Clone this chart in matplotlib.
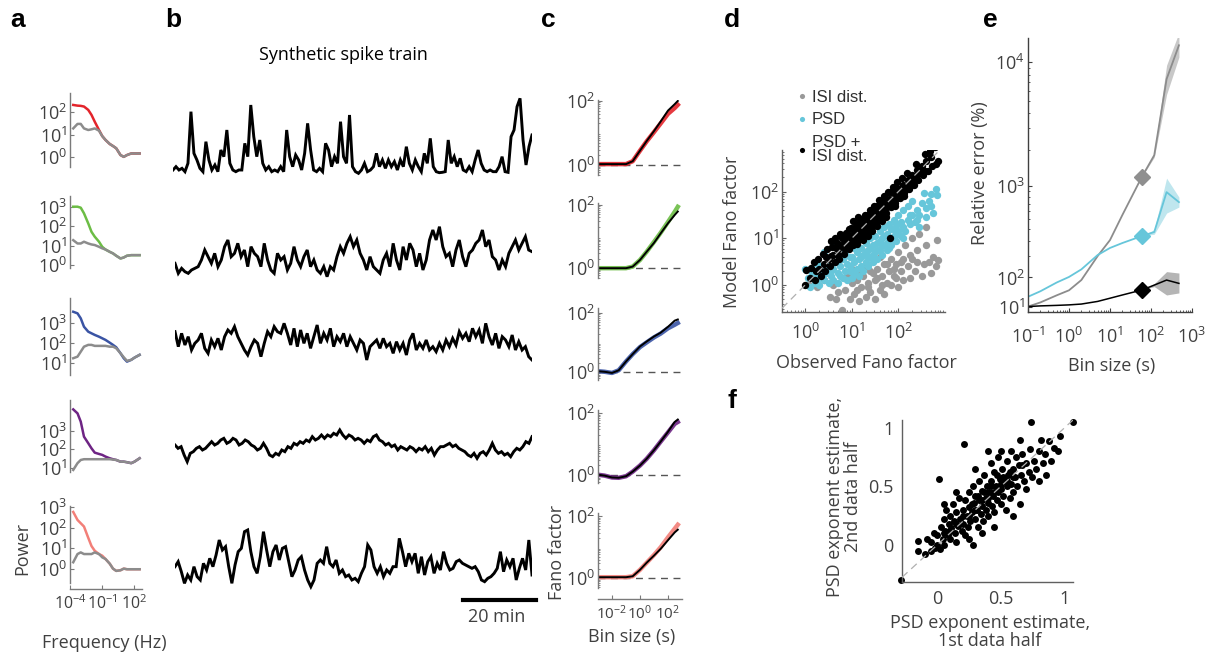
import numpy as np
import matplotlib.pyplot as plt
from matplotlib.lines import Line2D
from matplotlib.ticker import (FixedLocator, FixedFormatter, NullFormatter,
                               NullLocator, LogLocator, LogFormatterSciNotation)

W, H = 1221, 655

plt.rcParams['font.family'] = ['Open Sans', 'DejaVu Sans']
plt.rcParams['mathtext.fontset'] = 'custom'
plt.rcParams['mathtext.rm'] = 'Open Sans'
plt.rcParams['mathtext.it'] = 'Open Sans:italic'
plt.rcParams['mathtext.bf'] = 'Open Sans:bold'

TXT = '#404040'
GRAY = '#8c8c8c'
CYAN = '#66c6da'
COLS = ['#e3242b', '#6cbd45', '#3a54a4', '#6e2484', '#f27f78']

# ---------------- panel a: power spectra (log10 power) ----------------
freq_a = [2e-4, 5e-4, 1e-3, 2e-3, 5e-3, 1e-2, 2e-2, 5e-2, 0.1, 0.2, 0.5,
          1, 2, 5, 10, 20, 50, 100, 300]
psd_red = [2.31, 2.28, 2.27, 2.24, 2.09, 1.87, 1.57, 1.2, 0.93, 0.76, 0.58,
           0.49, 0.39, 0.09, 0.01, 0.09, 0.16, 0.16, 0.16]
psd_red_isi = [1.27, 1.47, 1.47, 1.27, 1.2, 1.23, 1.27, 1.17, 0.93, 0.76, 0.58,
               0.49, 0.39, 0.09, 0.01, 0.09, 0.16, 0.16, 0.16]
psd_green = [3.0, 3.0, 2.95, 2.66, 2.14, 1.71, 1.46, 1.2, 0.94, 0.8, 0.68,
             0.6, 0.48, 0.34, 0.39, 0.48, 0.51, 0.51, 0.51]
psd_green_isi = [1.28, 1.11, 1.11, 1.2, 1.11, 1.06, 1.03, 0.94, 0.86, 0.8, 0.68,
                 0.6, 0.48, 0.34, 0.39, 0.48, 0.51, 0.51, 0.51]
psd_blue = [3.58, 3.5, 3.25, 2.83, 2.58, 2.5, 2.42, 2.33, 2.25, 2.17, 2.03,
            1.92, 1.8, 1.5, 1.25, 1.08, 1.17, 1.28, 1.42]
psd_blue_isi = [1.25, 1.33, 1.58, 1.83, 1.92, 1.92, 1.87, 1.87, 1.87, 1.87, 1.83,
                1.83, 1.75, 1.5, 1.3, 1.12, 1.17, 1.28, 1.42]
psd_purple = [4.13, 3.92, 3.48, 2.68, 2.33, 2.06, 1.83, 1.76, 1.71, 1.62, 1.53,
              1.48, 1.44, 1.35, 1.35, 1.32, 1.27, 1.35, 1.53]
psd_purple_isi = [0.91, 1.27, 1.44, 1.48, 1.48, 1.48, 1.48, 1.48, 1.48, 1.48, 1.48,
                  1.46, 1.44, 1.35, 1.35, 1.32, 1.27, 1.35, 1.53]
psd_salmon = [2.76, 2.37, 2.21, 2.05, 1.5, 1.1, 0.87, 0.71, 0.63, 0.47, 0.24,
              0.0, -0.11, -0.08, 0.0, -0.03, -0.03, -0.03, -0.03]
psd_salmon_isi = [0.31, 0.71, 0.79, 0.71, 0.71, 0.71, 0.79, 0.71, 0.55, 0.47, 0.24,
                  0.0, -0.11, -0.08, 0.0, -0.03, -0.03, -0.03, -0.03]

# ---------------- panel b: synthetic spike trains (rate, a.u.) ----------------
trace1 = [1, 2, 1, 1.5, 0.5, 3, 18.5, 6, 4, 1.5, 0.5, 9.5, 4, 1, 2.5, 0.5, 7, 5, 13, 3,
          1, 0.5, 1, 1, 9, 5, 20.5, 11, 5, 10, 3, 1, 2, 0.5, 1, 0.5, 2, 0.5, 13, 5,
          2, 5.5, 4, 1, 6, 15, 7, 1, 0.5, 1.5, 0.5, 9, 7, 2, 5, 3, 15.5, 5, 3, 17.5,
          2, 0.5, 0, 1, 3, 0.5, 1, 2, 6, 2, 4, 1.5, 4, 2, 3.5, 1, 4, 2, 8, 3,
          1, 4, 2, 0.5, 6, 3, 10.5, 2, 0.5, 0.2, 0.3, 0.5, 10, 3, 5, 2, 4.5, 1, 0.5, 2,
          0.5, 4, 7, 3, 1, 0.5, 1, 0.5, 0.5, 2, 5, 0.5, 0.3, 11, 13, 20, 22.5, 10, 2.5, 8,
          11.5]
trace2 = [3, 0, 1.5, 0.5, 0, 1, 1.5, 2, 4, 7, 5, 3, 6, 2, 4, 8, 10, 5, 6, 9,
          5, 7, 2, 8, 6, 5, 2, 9, 4, 1, 0, 6, 4, 5, 1, 3, 8, 4, 2, 5,
          7, 2, 4, 1, 0, 2, -1, 2, 1, 5, 8, 6, 9, 11, 8, 10, 6, 4, 1, 5,
          2, 1, 0, 4, 6, 2, 9, 4, 1, 8, 4, 9, 7, 2, 6, 1, 4, 10, 13, 10,
          14, 8, 5, 6, 2, 7, 10, 5, 2, 6, 7, 9, 10, 13, 8, 10, 5, 4, 1, 4,
          2, 6, 8, 10, 7, 9, 11, 7, 6.5]
trace3 = [9.5, 5, 9, 5.5, 8, 4, 6, 7, 9, 4.5, 3, 7, 5, 7.5, 4, 8, 10, 9, 11, 8,
          6, 4, 2.5, 5, 7, 6, 2, 6, 9.5, 8, 11, 9.5, 9, 12, 9, 5.5, 10.5, 5, 10, 6,
          9, 4.5, 8, 11.5, 6, 9, 7, 10.5, 5, 8, 6.5, 9, 5, 8, 6, 4, 7, 6, 1, 5,
          6, 7, 4.5, 7.5, 5, 6, 3, 6.5, 4, 6, 2.5, 7, 9, 4, 6, 4.5, 7, 4, 5, 3.5,
          6, 4, 7, 5, 7.5, 5.5, 9.5, 7.5, 9, 6.5, 10.5, 8, 10, 6, 12, 8, 5.5, 9, 4.5, 8,
          7, 5, 8.5, 4, 6.5, 4, 5, 2, 1]
trace4 = [6, 5, 5.5, 3, 1, 3.5, 4, 5, 5.5, 4.5, 5, 6, 7, 6, 6.5, 7.5, 8, 6.5, 7, 8,
          7.5, 6, 6.5, 7.5, 7, 6, 5.5, 4.5, 5, 6.5, 5, 3, 2.5, 3.5, 3, 4.5, 4, 5.5, 5, 6.5,
          6, 7, 6.5, 7.5, 7, 8.5, 7.5, 8, 9, 8, 9, 8.5, 9.5, 9, 10.5, 9, 8, 9, 8.5, 7.5,
          8, 7.5, 6.5, 7.5, 7, 8.5, 9, 7.5, 7, 6, 6.5, 5.5, 6, 4.5, 5.5, 5, 4.5, 5.5, 5, 4,
          5, 4.5, 5.5, 4, 5, 3, 4.5, 5.5, 5.5, 6, 6.5, 5.5, 6, 5, 4.5, 4, 3, 2.5, 3.5, 2,
          3.5, 4, 3, 4.5, 6.5, 4.5, 3.5, 4, 3, 3.5, 2.5, 4, 5, 4.5, 5.5, 7, 6.5, 8.5]
trace5 = [6.5, 8, 5, 1.5, 4, 2.5, 6.5, 3.5, 2.5, 7.5, 5.5, 9, 6.5, 10, 14.5, 11.5, 12.5, 6.5, 1.5, 7,
          11, 12, 17, 17.5, 11, 6.5, 4.5, 9.5, 17, 11.5, 6.5, 11, 13, 8.5, 12, 12.5, 8, 3.5, 5.5, 8.5,
          9.5, 5.5, 2.5, 0.5, 2.5, 7.5, 8.5, 7.5, 12.5, 7.5, 6.5, 8.5, 4.5, 5.5, 3.5, 4, 2.5, 3, 2, 4.5,
          6.5, 13, 11.5, 6.5, 4.5, 6.5, 3.5, 5.5, 4.5, 6.5, 6.5, 15, 11, 6.5, 10.5, 8, 10.5, 4.5, 9.5, 4,
          8, 9.5, 4.5, 7.5, 5.5, 11, 7.5, 5.5, 6, 8, 8.5, 7.5, 7, 6.5, 6, 6.5, 5, 2.5, 2, 3,
          3.5, 4.5, 6, 11, 5, 8.5, 6.5, 9, 2.5, 6, 9, 5.5, 14.5, 4]

# ---------------- panel c: Fano factor vs bin size (log10 FF) ----------------
bins_c = [0.001, 0.003, 0.01, 0.03, 0.1, 0.3, 1, 3, 10, 30, 100, 300, 500]
ff_model = [
    [0.03, 0.03, 0.03, 0.03, 0.03, 0.12, 0.45, 0.75, 1.06, 1.36, 1.7, 1.9, 2.0],
    [0.0, 0.0, 0.0, 0.0, 0.0, 0.05, 0.26, 0.52, 0.8, 1.1, 1.42, 1.68, 1.79],
    [0.02, 0.0, -0.04, 0.05, 0.35, 0.6, 0.86, 1.03, 1.2, 1.33, 1.53, 1.74, 1.78],
    [0.0, -0.03, -0.09, -0.1, -0.05, 0.1, 0.3, 0.52, 0.8, 1.08, 1.4, 1.72, 1.8],
    [0.03, 0.03, 0.03, 0.03, 0.03, 0.06, 0.27, 0.5, 0.73, 0.95, 1.23, 1.48, 1.57],
]
ff_data = [
    [0.03, 0.03, 0.03, 0.03, 0.03, 0.12, 0.45, 0.74, 1.03, 1.3, 1.6, 1.78, 1.88],
    [0.0, 0.0, 0.0, 0.0, 0.0, 0.05, 0.26, 0.52, 0.83, 1.12, 1.46, 1.78, 1.94],
    [0.02, 0.0, -0.04, 0.05, 0.35, 0.6, 0.84, 1.0, 1.17, 1.3, 1.48, 1.6, 1.66],
    [0.0, -0.03, -0.09, -0.1, -0.05, 0.1, 0.3, 0.52, 0.8, 1.08, 1.38, 1.66, 1.72],
    [0.03, 0.03, 0.03, 0.03, 0.03, 0.06, 0.27, 0.5, 0.75, 1.0, 1.32, 1.6, 1.73],
]

# ---------------- panel d: observed vs model Fano factor (log10) ----------------
isi_pts = [(0.07, 0.0), (0.25, -0.04), (0.54, -0.25), (0.79, -0.54), (0.4, 0.1), (0.6, 0.0),
           (0.7, -0.15), (0.85, -0.1), (0.95, -0.3), (1.0, 0.05), (1.05, -0.2), (1.1, 0.1),
           (1.15, -0.35), (1.2, -0.05), (1.25, 0.2), (1.3, -0.25), (1.35, 0.05), (1.4, -0.15),
           (1.45, 0.25), (1.5, -0.3), (1.5, 0.1), (1.55, 0.35), (1.6, -0.1), (1.65, 0.2),
           (1.7, 0.45), (1.7, -0.2), (1.75, 0.05), (1.8, 0.3), (1.85, 0.55), (1.85, 0.0),
           (1.9, 0.2), (1.95, 0.45), (2.0, -0.05), (2.0, 0.7), (2.05, 0.3), (2.1, 0.55),
           (2.1, 0.1), (2.15, 0.85), (2.2, 0.4), (2.25, 0.15), (2.25, 0.65), (2.3, 1.0),
           (2.35, 0.3), (2.4, 0.75), (2.4, 0.5), (2.45, 1.1), (2.5, 0.2), (2.55, 0.45),
           (2.6, 0.85), (2.6, 1.25), (2.65, 0.5), (2.7, 0.25), (2.75, 0.6), (2.8, 0.4),
           (2.82, 0.96), (2.86, 0.54), (1.3, 0.4), (1.6, 0.6), (0.9, 0.2), (1.0, 0.35),
           (1.2, 0.25), (1.75, 0.45), (2.3, 0.55), (1.95, 0.15), (0.65, -0.3), (1.4, 0.3),
           (1.1, -0.1), (1.35, -0.05), (1.55, 0.15), (1.65, 0.0), (1.9, 0.35), (2.05, 0.5)]
psd_pts = [(0.05, 0.15), (0.1, -0.05), (0.15, 0.25), (0.2, 0.05), (0.25, 0.2), (0.3, 0.0),
           (0.35, 0.3), (0.4, 0.1), (0.45, 0.25), (0.5, 0.05), (0.5, 0.4), (0.55, 0.2),
           (0.6, 0.35), (0.6, 0.1), (0.65, 0.5), (0.7, 0.25), (0.7, 0.05), (0.75, 0.4),
           (0.8, 0.15), (0.8, 0.55), (0.85, 0.3), (0.9, 0.45), (0.9, 0.1), (0.95, 0.6),
           (1.0, 0.3), (1.0, 0.15), (1.05, 0.5), (1.1, 0.35), (1.1, 0.7), (1.15, 0.2),
           (1.15, 0.55), (1.2, 0.4), (1.2, 0.8), (1.25, 0.3), (1.25, 0.65), (1.3, 0.5),
           (1.3, 0.9), (1.35, 0.4), (1.35, 0.75), (1.4, 0.6), (1.4, 1.0), (1.45, 0.5),
           (1.45, 0.85), (1.5, 0.7), (1.5, 1.05), (1.55, 0.55), (1.55, 0.9), (1.6, 0.75),
           (1.6, 1.15), (1.65, 0.65), (1.65, 1.0), (1.7, 0.85), (1.7, 1.25), (1.75, 0.75),
           (1.75, 1.1), (1.8, 0.95), (1.8, 1.3), (1.85, 0.85), (1.85, 1.2), (1.9, 1.05),
           (1.9, 1.4), (1.95, 0.95), (1.95, 1.3), (2.0, 1.15), (2.0, 1.5), (2.05, 1.05),
           (2.1, 1.25), (2.1, 1.6), (2.15, 1.15), (2.2, 1.4), (2.2, 1.7), (2.25, 1.3),
           (2.3, 1.5), (2.3, 1.8), (2.35, 1.35), (2.4, 1.6), (2.45, 1.25), (2.5, 1.75),
           (2.55, 1.97), (2.6, 1.45), (2.65, 1.8), (2.7, 1.7), (2.75, 1.55), (2.83, 1.93),
           (2.8, 2.05), (0.4, 0.7), (0.61, 0.89), (0.25, 0.45), (0.0, 0.35), (1.05, 0.8),
           (1.6, 0.95), (2.05, 1.35), (0.95, 0.4), (1.4, 0.8), (1.75, 0.9), (2.4, 1.4),
           (0.3, 0.15), (0.55, 0.3), (0.75, 0.2), (0.95, 0.3), (1.05, 0.25), (1.2, 0.6),
           (1.35, 0.6), (1.5, 0.55), (1.65, 0.85), (1.8, 0.8), (1.95, 1.1), (2.1, 1.0),
           (2.25, 1.5), (2.45, 1.5), (2.6, 1.65), (2.7, 1.95), (0.85, 0.7), (1.3, 0.7),
           (1.55, 0.75), (1.9, 1.2), (1.0, 0.6), (1.45, 0.65), (1.7, 1.05), (2.0, 1.3)]
both_pts = [(0.0, 0.0), (0.02, 0.32), (0.1, 0.15), (0.12, 0.36), (0.2, 0.1), (0.22, 0.3),
            (0.18, 0.5), (0.3, 0.35), (0.33, 0.2), (0.27, 0.56), (0.4, 0.45), (0.43, 0.3),
            (0.37, 0.66), (0.5, 0.55), (0.53, 0.4), (0.47, 0.76), (0.55, 0.95), (0.6, 0.64),
            (0.63, 0.5), (0.57, 0.82), (0.64, 1.0), (0.7, 0.76), (0.73, 0.56), (0.68, 0.9),
            (0.75, 1.1), (0.8, 0.86), (0.83, 0.66), (0.78, 1.0), (0.86, 0.76), (0.9, 0.95),
            (0.93, 0.77), (0.88, 1.12), (0.96, 0.86), (0.94, 1.2), (1.0, 1.06), (1.03, 0.85),
            (0.98, 1.22), (1.06, 0.96), (1.03, 1.36), (1.1, 1.15), (1.13, 0.96), (1.08, 1.31),
            (1.16, 1.06), (1.14, 1.45), (1.2, 1.24), (1.23, 1.06), (1.18, 1.41), (1.26, 1.15),
            (1.24, 0.96), (1.3, 1.36), (1.33, 1.16), (1.28, 1.5), (1.36, 1.25), (1.34, 1.05),
            (1.4, 1.46), (1.43, 1.25), (1.38, 1.61), (1.46, 1.36), (1.44, 1.15), (1.5, 1.55),
            (1.53, 1.36), (1.48, 1.7), (1.56, 1.45), (1.54, 1.26), (1.6, 1.65), (1.63, 1.46),
            (1.58, 1.81), (1.66, 1.55), (1.64, 1.36), (1.7, 1.76), (1.73, 1.55), (1.68, 1.9),
            (1.76, 1.66), (1.74, 1.46), (1.8, 1.85), (1.83, 1.66), (1.78, 2.0), (1.86, 1.75),
            (1.82, 1.0), (1.9, 1.95), (1.93, 1.76), (1.88, 2.1), (1.96, 1.86), (2.0, 2.05),
            (2.03, 1.86), (1.98, 2.2), (2.06, 1.96), (2.1, 2.15), (2.13, 1.96), (2.08, 2.3),
            (2.16, 2.05), (2.2, 2.25), (2.23, 2.06), (2.18, 2.4), (2.26, 2.15), (2.3, 2.36),
            (2.33, 2.15), (2.36, 2.26), (2.4, 2.46), (2.43, 2.25), (2.38, 2.6), (2.5, 2.55),
            (2.53, 2.36), (2.56, 2.45), (2.6, 2.66), (2.63, 2.45), (2.58, 2.8), (2.7, 2.75),
            (2.73, 2.55), (2.68, 2.86), (2.8, 2.6), (2.86, 2.66), (2.78, 2.95), (1.35, 1.4),
            (1.55, 1.6), (1.75, 1.8), (1.15, 1.2), (0.95, 1.0), (1.45, 1.5), (1.65, 1.7),
            (0.45, 0.6), (0.55, 0.62), (0.65, 0.8), (0.75, 0.85), (0.85, 0.95), (0.9, 0.85),
            (1.0, 0.95), (1.1, 1.05), (1.2, 1.15), (1.25, 1.3), (1.3, 1.25), (1.4, 1.35),
            (1.5, 1.45), (1.6, 1.55), (1.7, 1.65), (1.8, 1.75), (1.9, 1.85), (2.0, 1.95),
            (2.1, 2.05), (2.2, 2.15), (2.3, 2.25), (2.4, 2.35), (2.5, 2.45), (1.05, 1.2),
            (1.15, 1.3), (1.25, 1.4), (1.35, 1.5), (1.45, 1.6), (1.55, 1.7), (1.65, 1.8),
            (1.85, 2.0), (1.95, 2.1), (1.12, 0.88), (1.32, 1.08), (1.52, 1.3), (1.72, 1.5),
            (1.92, 1.7), (2.12, 1.9), (0.85, 1.05), (0.7, 0.65)]

# ---------------- panel e: relative error (%) vs bin size ----------------
bins_e = [0.1, 0.2, 0.5, 1, 2, 5, 10, 20, 60, 120, 240, 480]
err_isi = [11, 21, 40, 55, 90, 202, 308, 548, 1200, 1819, 7400, 13600]
err_isi_lo = [11, 21, 40, 55, 90, 202, 308, 548, 1200, 1750, 5600, 11000]
err_isi_hi = [11, 21, 40, 55, 90, 202, 308, 548, 1200, 1900, 9500, 17000]
err_psd = [36, 52, 81, 102, 134, 208, 252, 286, 340, 374, 885, 721]
err_psd_lo = [36, 52, 81, 102, 134, 208, 252, 286, 340, 355, 572, 650]
err_psd_hi = [36, 52, 81, 102, 134, 208, 252, 286, 340, 395, 1169, 799]
err_both = [11, 12.6, 13.8, 15, 17, 23.6, 32, 41, 56, 72, 90, 78]
err_both_lo = [11, 12.6, 13.8, 15, 17, 23.6, 32, 41, 56, 67, 41, 47]
err_both_hi = [11, 12.6, 13.8, 15, 17, 23.6, 32, 41, 56, 77, 124, 118]
marker_bin = 8  # index of the 60 s bin marked with diamonds

# ---------------- panel f: PSD exponent, 1st vs 2nd half ----------------
exp_pts = [(-0.29, -0.3), (-0.15, 0.03), (-0.15, -0.05), (-0.1, -0.08), (-0.08, 0.05),
           (-0.05, -0.05), (-0.05, 0.02), (-0.03, 0.1), (-0.02, -0.03), (0.0, 0.0), (0.0, 0.08),
           (0.01, 0.56), (0.02, -0.04), (0.03, 0.15), (0.04, 0.05), (0.05, 0.22), (0.05, 0.0),
           (0.06, 0.12), (0.07, 0.3), (0.08, 0.08), (0.09, 0.18), (0.1, 0.25), (0.1, 0.05),
           (0.11, 0.14), (0.12, 0.35), (0.13, 0.2), (0.14, 0.1), (0.15, 0.28), (0.15, 0.02),
           (0.16, 0.16), (0.17, 0.4), (0.18, 0.22), (0.19, 0.12), (0.2, 0.3), (0.2, 0.18),
           (0.21, 0.86), (0.22, 0.08), (0.22, 0.38), (0.23, 0.25), (0.24, 0.15), (0.25, 0.45),
           (0.25, 0.32), (0.26, 0.2), (0.27, 0.28), (0.28, 0.0), (0.28, 0.5), (0.29, 0.36),
           (0.3, 0.22), (0.3, 0.42), (0.31, 0.3), (0.32, 0.15), (0.33, 0.55), (0.33, 0.38),
           (0.34, 0.26), (0.35, 0.46), (0.35, 0.33), (0.36, 0.2), (0.37, 0.6), (0.38, 0.4),
           (0.38, 0.3), (0.39, 0.5), (0.4, 0.25), (0.4, 0.36), (0.41, 0.45), (0.42, 0.7),
           (0.42, 0.55), (0.43, 0.33), (0.44, 0.42), (0.45, 0.28), (0.45, 0.62), (0.46, 0.5),
           (0.47, 0.38), (0.48, 0.75), (0.48, 0.45), (0.49, 0.56), (0.5, 0.35), (0.5, 0.48),
           (0.51, 0.65), (0.52, 0.42), (0.53, 0.55), (0.54, 0.3), (0.55, 0.72), (0.55, 0.5),
           (0.56, 0.6), (0.57, 0.4), (0.58, 0.8), (0.58, 0.52), (0.6, 0.65), (0.6, 0.45),
           (0.61, 0.58), (0.62, 0.75), (0.63, 0.5), (0.64, 0.68), (0.65, 0.35), (0.66, 0.6),
           (0.67, 0.78), (0.68, 0.55), (0.7, 0.7), (0.7, 0.48), (0.72, 0.62), (0.73, 0.82),
           (0.74, 1.05), (0.75, 0.58), (0.76, 0.72), (0.78, 0.65), (0.8, 0.8), (0.8, 0.55),
           (0.82, 0.9), (0.83, 0.7), (0.85, 0.78), (0.86, 0.6), (0.88, 0.89), (0.9, 0.72),
           (0.92, 0.83), (0.95, 0.8), (0.97, 0.93), (1.07, 1.05), (0.15, 0.45), (0.05, 0.35),
           (0.25, 0.05), (0.35, 0.1), (0.45, 0.15), (0.6, 0.25), (0.5, 0.8), (0.3, 0.65),
           (0.4, 0.8), (0.65, 0.9), (0.2, 0.25), (0.25, 0.25), (0.3, 0.3), (0.35, 0.38),
           (0.4, 0.4), (0.45, 0.45), (0.5, 0.52), (0.55, 0.55), (0.6, 0.58), (0.1, 0.12),
           (0.15, 0.18), (0.05, 0.1), (0.27, 0.35), (0.37, 0.45), (0.47, 0.6), (0.57, 0.62),
           (0.67, 0.68), (0.32, 0.42), (0.42, 0.5), (0.52, 0.58)]


def px_axes(fig, x0, y0, x1, y1):
    return fig.add_axes([x0 / W, 1 - y1 / H, (x1 - x0) / W, (y1 - y0) / H])


def clean(ax, bottom=False, spine_col='#7a7a7a'):
    ax.spines['top'].set_visible(False)
    ax.spines['right'].set_visible(False)
    ax.spines['bottom'].set_visible(bottom)
    for s in ('left', 'bottom'):
        ax.spines[s].set_color(spine_col)
        ax.spines[s].set_linewidth(1.0)
    ax.tick_params(which='both', direction='in', colors=spine_col, labelcolor=TXT,
                   labelsize=13, pad=2)
    ax.tick_params(which='major', length=3)
    ax.tick_params(which='minor', length=1.5)
    if not bottom:
        ax.tick_params(axis='x', which='both', bottom=False, labelbottom=False)
    ax.patch.set_visible(False)


fig = plt.figure(figsize=(W / 100, H / 100), dpi=100)

# ---- a
a_boxes = [(70, 93, 142, 167), (70, 196, 142, 268), (70, 298, 142, 375),
           (70, 400, 142, 472), (70, 506, 142, 583)]
a_ylims = [(-0.44, 2.84), (-0.15, 3.55), (0.41, 4.27), (0.8, 4.63), (-0.7, 3.05)]
a_yticks = [[1, 10, 100], [1, 10, 100, 1000], [10, 100, 1000], [10, 100, 1000],
            [1, 10, 100, 1000]]
a_col = [psd_red, psd_green, psd_blue, psd_purple, psd_salmon]
a_isi = [psd_red_isi, psd_green_isi, psd_blue_isi, psd_purple_isi, psd_salmon_isi]
for i in range(5):
    ax = px_axes(fig, *a_boxes[i])
    last = i == 4
    clean(ax, bottom=last)
    ax.plot(freq_a, 10 ** np.array(a_col[i]), color=COLS[i], lw=1.8)
    ax.plot(freq_a, 10 ** np.array(a_isi[i]), color=GRAY, lw=1.8)
    ax.set_xscale('log')
    ax.set_yscale('log')
    ax.set_xlim(1e-4, 10 ** 2.7)
    ax.set_ylim(10 ** a_ylims[i][0], 10 ** a_ylims[i][1])
    ax.yaxis.set_major_locator(FixedLocator(a_yticks[i]))
    ax.yaxis.set_major_formatter(LogFormatterSciNotation())
    ax.yaxis.set_minor_locator(NullLocator())
    if last:
        ax.spines['bottom'].set_position(('outward', 4))
        ax.xaxis.set_major_locator(FixedLocator([1e-4, 1e-1, 1e2]))
        ax.xaxis.set_major_formatter(LogFormatterSciNotation())
        ax.xaxis.set_minor_locator(LogLocator(subs=[1.0]))
        ax.xaxis.set_minor_formatter(NullFormatter())
        ax.tick_params(axis='x', labelsize=11.5, pad=4)

# ---- b
b_boxes = [(173, 95, 532, 176), (175, 220, 532, 280), (175, 315, 532, 366),
           (175, 420, 532, 468), (175, 525, 532, 590)]
b_ylims = [(-0.8, 23.5), (-2.0, 16), (-0.8, 14.5), (-0.9, 13.5), (-0.5, 19)]
for trace, box, yl in zip([trace1, trace2, trace3, trace4, trace5], b_boxes, b_ylims):
    ax = px_axes(fig, *box)
    ax.plot(np.arange(len(trace)), trace, color='black', lw=2.1, solid_joinstyle='miter')
    ax.set_xlim(0, len(trace) - 1)
    ax.set_ylim(*yl)
    ax.axis('off')
fig.add_artist(Line2D([463 / W, 536 / W], [1 - 600 / H, 1 - 600 / H], color='black', lw=3))
fig.text(497 / W, 1 - 617 / H, '20 min', ha='center', va='center', fontsize=13, color=TXT)
fig.text(343 / W, 1 - 55 / H, 'Synthetic spike train', ha='center', va='center',
         fontsize=13, color='black')

# ---- c
c_boxes = [(598, 100, 682, 175), (598, 203, 682, 278), (598, 308, 682, 380),
           (598, 410, 682, 483), (598, 513, 682, 588)]
c_ylims = [(-0.31, 2.03), (-0.31, 2.06), (-0.28, 2.17), (-0.27, 2.11), (-0.32, 2.11)]
for i in range(5):
    ax = px_axes(fig, *c_boxes[i])
    last = i == 4
    clean(ax, bottom=last)
    ax.set_xscale('log')
    ax.set_yscale('log')
    ax.axhline(1, color='#555555', lw=1.0, ls=(0, (5, 4)), clip_on=False,
               xmin=0, xmax=1.0)
    ax.plot(bins_c, 10 ** np.array(ff_data[i]), color=COLS[i], lw=3.2, alpha=0.9)
    ax.plot(bins_c, 10 ** np.array(ff_model[i]), color='black', lw=1.4)
    ax.set_xlim(1e-3, 1e3)
    ax.set_ylim(10 ** c_ylims[i][0], 10 ** c_ylims[i][1])
    ax.yaxis.set_major_locator(FixedLocator([1, 100]))
    ax.yaxis.set_major_formatter(LogFormatterSciNotation())
    ax.yaxis.set_minor_locator(LogLocator(subs=np.arange(2, 10)))
    ax.yaxis.set_minor_formatter(NullFormatter())
    if last:
        ax.spines['bottom'].set_position(('outward', 8))
        ax.xaxis.set_major_locator(FixedLocator([1e-2, 1, 1e2]))
        ax.xaxis.set_major_formatter(LogFormatterSciNotation())
        ax.xaxis.set_minor_locator(LogLocator(subs=np.arange(2, 10)))
        ax.xaxis.set_minor_formatter(NullFormatter())
        ax.tick_params(axis='x', labelsize=11, pad=4)

# ---- d
ax = px_axes(fig, 782, 150, 945, 312)
clean(ax, bottom=True, spine_col='#606060')
for pts, col, lab in [(isi_pts, '#999999', 'ISI dist.'), (psd_pts, CYAN, 'PSD'),
                      (both_pts, 'black', 'PSD +\nISI dist.')]:
    xs, ys = zip(*pts)
    ax.plot(10 ** np.array(xs), 10 ** np.array(ys), 'o', color=col, ms=5.3, mec='none',
            label=lab)
ax.set_xscale('log')
ax.set_yscale('log')
ax.set_xlim(10 ** -0.5, 10 ** 3.0)
ax.set_ylim(10 ** -0.58, 10 ** 2.89)
ax.axline((1, 1), (10, 10), color='#b0b0b0', lw=0.9, ls=(0, (6, 4)), zorder=5)
for axis in (ax.xaxis, ax.yaxis):
    axis.set_major_locator(FixedLocator([1, 10, 100]))
    axis.set_major_formatter(LogFormatterSciNotation())
    axis.set_minor_locator(LogLocator(subs=np.arange(2, 10)))
    axis.set_minor_formatter(NullFormatter())
ax.tick_params(axis='x', pad=8)
leg = ax.legend(loc='lower left', bbox_to_anchor=(0.04, 0.86), frameon=False,
                handlelength=0.6, handletextpad=0.3, labelspacing=0.45, borderpad=0,
                prop={'family': 'Liberation Sans', 'size': 12}, markerscale=0.7)
for t in leg.get_texts():
    t.set_color('#303030')
    t.set_linespacing(0.95)

# ---- e
ax = px_axes(fig, 1028, 38, 1192, 311.5)
clean(ax, bottom=True, spine_col='#404040')


def err_fwd(v):
    return np.log10(np.clip(v, -119.0, None) + 120.0)


def err_inv(u):
    return 10.0 ** u - 120.0


ax.set_xscale('log')
ax.set_yscale('function', functions=(err_fwd, err_inv))
ax.fill_between(bins_e, err_isi_lo, err_isi_hi, color='#c8c8c8', lw=0)
ax.fill_between(bins_e, err_psd_lo, err_psd_hi, color='#bfe6ee', lw=0)
ax.fill_between(bins_e, err_both_lo, err_both_hi, color='#b5b5b5', lw=0)
ax.plot(bins_e, err_isi, color=GRAY, lw=1.3)
ax.plot(bins_e, err_psd, color=CYAN, lw=1.3)
ax.plot(bins_e, err_both, color='black', lw=1.1)
ax.plot(bins_e[marker_bin], err_isi[marker_bin], 'D', color='#8f8f8f', ms=8)
ax.plot(bins_e[marker_bin], err_psd[marker_bin], 'D', color=CYAN, ms=8)
ax.plot(bins_e[marker_bin], err_both[marker_bin], 'D', color='black', ms=8)
ax.set_xlim(0.1, 1000)
ax.set_ylim(0, 15500)
ax.yaxis.set_major_locator(FixedLocator([10, 100, 1000, 10000]))
ax.yaxis.set_major_formatter(FixedFormatter([r'$\mathdefault{10^{1}}$', r'$\mathdefault{10^{2}}$',
                                             r'$\mathdefault{10^{3}}$', r'$\mathdefault{10^{4}}$']))
ax.yaxis.set_minor_locator(FixedLocator([k * 10 ** d for d in (2, 3) for k in range(2, 10)]))
ax.yaxis.set_minor_formatter(NullFormatter())
ax.xaxis.set_major_locator(FixedLocator([0.1, 1, 10, 100, 1000]))
ax.xaxis.set_major_formatter(LogFormatterSciNotation())
ax.xaxis.set_minor_locator(LogLocator(subs=np.arange(2, 10)))
ax.xaxis.set_minor_formatter(NullFormatter())
ax.tick_params(axis='x', pad=11)

# ---- f
ax = px_axes(fig, 902, 420, 1073, 582)
clean(ax, bottom=True, spine_col='#606060')
fx, fyv = zip(*exp_pts)
ax.plot(fx, fyv, 'o', color='black', ms=5, mec='none', clip_on=False)
ax.axline((0, 0), (1, 1), color='#b0b0b0', lw=0.9, ls=(0, (6, 4)), zorder=5)
ax.set_xlim(-0.28, 1.07)
ax.set_ylim(-0.32, 1.07)
ax.set_xticks([0, 0.5, 1])
ax.set_xticklabels(['0', '0.5', '1'])
ax.set_yticks([0, 0.5, 1])
ax.set_yticklabels(['0', '0.5', '1'])
ax.tick_params(which='major', length=0)
ax.tick_params(axis='x', pad=6)
ax.tick_params(axis='y', pad=6)

# ---- axis labels and panel letters
def ftext(x, y, s, **kw):
    kw.setdefault('fontsize', 13)
    kw.setdefault('color', TXT)
    fig.text(x / W, 1 - y / H, s, ha='center', va='center', **kw)


ftext(22, 548, 'Power', rotation=90)
ftext(104, 643, 'Frequency (Hz)')
ftext(557, 552, 'Fano factor', rotation=90)
ftext(632, 637, 'Bin size (s)')
ftext(732, 232, 'Model Fano factor', rotation=90)
ftext(866, 363, 'Observed Fano factor')
ftext(980, 173, 'Relative error (%)', rotation=90)
ftext(1112, 366, 'Bin size (s)')
ftext(844, 497, 'PSD exponent estimate,\n2nd data half', rotation=90, linespacing=1.05)
ftext(990, 632, 'PSD exponent estimate,\n1st data half', linespacing=1.05)

for letter, x, y in [('a', 18, 20), ('b', 173, 20), ('c', 548, 20), ('d', 732, 20),
                     ('e', 990, 20), ('f', 732, 401)]:
    fig.text(x / W, 1 - y / H, letter, ha='center', va='center', fontsize=19,
             fontweight='bold', family='Liberation Sans', color='black')

fig.savefig('out.png', dpi=100)
